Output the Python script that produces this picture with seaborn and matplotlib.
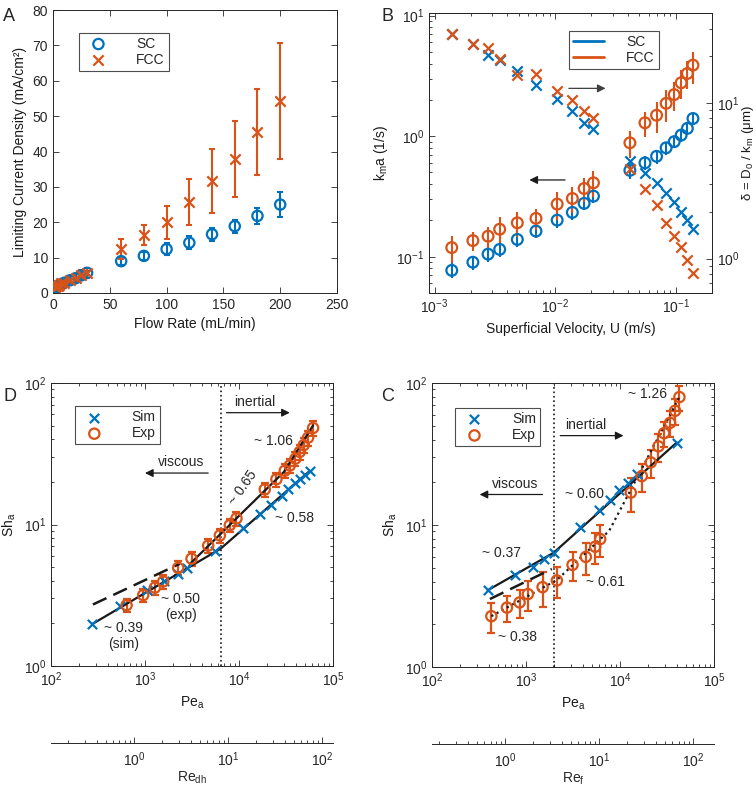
import numpy as np
import pandas as pd
import matplotlib
matplotlib.use('Agg')
import matplotlib.pyplot as plt
from matplotlib.lines import Line2D
import seaborn as sns

# ---- Panel A: limiting current density vs flow rate ----
flow_rate = [2, 3, 4, 5, 7, 10, 15, 20, 25, 30, 60, 80, 100, 120, 140, 160, 180, 200]
j_sc = [1.4, 1.6, 1.9, 2.1, 2.5, 2.9, 3.6, 4.2, 5.0, 5.7, 9.0, 10.5, 12.4, 14.2, 16.6, 18.9, 21.8, 25.0]
j_sc_err = [0.2, 0.2, 0.2, 0.2, 0.3, 0.3, 0.4, 0.4, 0.5, 0.5, 1.2, 1.1, 1.7, 1.9, 1.9, 1.8, 2.2, 3.5]
j_fcc = [1.7, 1.9, 2.1, 2.4, 2.7, 2.9, 3.8, 4.3, 5.2, 5.7, 12.4, 16.4, 20.0, 25.8, 31.7, 37.9, 45.5, 54.3]
j_fcc_err = [0.4, 0.3, 0.4, 0.6, 0.6, 0.6, 1.0, 1.1, 1.2, 1.4, 2.8, 2.7, 4.7, 6.5, 9.0, 10.8, 12.2, 16.5]

# ---- Panel B: kma and boundary layer thickness vs superficial velocity ----
velocity = [1.39e-3, 2.08e-3, 2.78e-3, 3.47e-3, 4.86e-3, 6.94e-3, 1.04e-2, 1.39e-2, 1.74e-2, 2.08e-2,
            4.17e-2, 5.56e-2, 6.94e-2, 8.33e-2, 9.72e-2, 0.111, 0.125, 0.139]
kma_sc = [0.077, 0.090, 0.105, 0.115, 0.139, 0.163, 0.201, 0.233, 0.277, 0.318,
          0.52, 0.60, 0.68, 0.80, 0.90, 1.02, 1.16, 1.40]
kma_sc_err = [0.011, 0.012, 0.014, 0.015, 0.018, 0.021, 0.027, 0.030, 0.035, 0.040,
              0.08, 0.08, 0.09, 0.10, 0.11, 0.12, 0.13, 0.15]
kma_fcc = [0.119, 0.136, 0.148, 0.169, 0.191, 0.208, 0.273, 0.304, 0.368, 0.41,
           0.88, 1.29, 1.49, 1.87, 2.21, 2.77, 3.31, 3.88]
kma_fcc_err = [0.03, 0.025, 0.03, 0.045, 0.045, 0.04, 0.07, 0.075, 0.085, 0.10,
               0.22, 0.30, 0.42, 0.55, 0.60, 0.75, 0.85, 1.15]
delta_sc = [28.0, 23.9, 20.5, 18.8, 16.0, 13.1, 10.6, 8.85, 7.5, 6.8,
            4.25, 3.53, 3.08, 2.65, 2.32, 2.0, 1.77, 1.54]
delta_fcc = [27.9, 24.0, 22.6, 19.2, 15.1, 15.5, 11.9, 10.4, 8.85, 8.0,
             3.75, 2.79, 2.21, 1.70, 1.39, 1.18, 0.975, 0.81]

# ---- Panel D: Sh vs Pe (SC) ----
pe_d_sim = [275, 541, 1040, 1600, 2250, 2770, 5530, 11070, 16650, 22130, 28960, 33570, 39180, 44270, 50500, 56510]
sh_d_sim = [1.98, 2.66, 3.44, 4.0, 4.47, 4.94, 6.52, 9.46, 11.9, 13.8, 15.8, 17.7, 19.5, 21.1, 22.3, 24.0]
pe_d_exp = [637, 957, 1274, 1563, 2255, 3125, 4700, 6255, 7985, 9400, 18800, 25000, 30680, 34670,
            39810, 44270, 48850, 54330, 61380]
sh_d_exp = [2.69, 3.17, 3.58, 3.96, 4.94, 5.74, 7.09, 8.37, 9.89, 11.05, 17.7, 20.9, 24.0, 26.1,
            29.2, 32.6, 36.4, 41.1, 48.1]
sh_d_err = [0.3, 0.35, 0.4, 0.45, 0.55, 0.65, 0.8, 0.95, 1.1, 1.3, 2.0, 2.4, 2.8, 3.1,
            3.5, 4.0, 4.4, 5.0, 6.0]
fit_d_sim_pe = [275, 6400, 56500]
fit_d_sim_sh = [1.98, 6.76, 23.9]
fit_d_exp_pe = [3000, 30000, 61400]
fit_d_exp_sh = [5.26, 23.5, 50.2]
fit_d_dash_pe = [279, 2350]
fit_d_dash_sh = [2.72, 5.28]
pe_d_transition = 6410

# ---- Panel C: Sh vs Pe (FCC) ----
pe_c_sim = [391, 769, 1184, 1562, 1963, 3767, 6049, 7852, 9867, 12300, 15070, 40180]
sh_c_sim = [3.47, 4.43, 5.04, 5.79, 6.37, 9.67, 12.8, 15.1, 17.5, 19.7, 22.7, 38.1]
pe_c_exp = [428, 627, 855, 1047, 1500, 2130, 3125, 4330, 5450, 6155, 13030, 17060, 21250,
            25630, 29440, 34100, 38540, 42870]
sh_c_exp = [2.28, 2.62, 2.85, 3.26, 3.65, 4.07, 5.24, 5.96, 7.03, 7.96, 16.9, 22.1, 27.6,
            35.8, 44.3, 52.4, 63.7, 79.6]
sh_c_err = [0.55, 0.55, 0.65, 0.8, 1.0, 1.0, 1.2, 1.5, 1.7, 2.0, 4.5, 5.0, 6.0,
            8.0, 9.0, 11.0, 13.0, 16.0]
fit_c_sim_pe = [391, 1963, 40180]
fit_c_sim_sh = [3.47, 6.37, 38.1]
fit_c_dash_pe = [413, 1884]
fit_c_dash_sh = [3.01, 4.90]
fit_c_exp_pe = [428, 2130, 7670, 42870]
fit_c_exp_sh = [2.28, 4.1, 9.1, 79.6]
pe_c_transition = 1995

BLUE = '#0072BD'
ORANGE = '#D95319'
GREY = '0.15'

sns.set_theme(style='white')
plt.rcParams['font.family'] = ['Liberation Sans', 'DejaVu Sans']
plt.rcParams['mathtext.fontset'] = 'custom'
plt.rcParams['mathtext.rm'] = 'Liberation Sans'
plt.rcParams['mathtext.it'] = 'Liberation Sans:italic'
plt.rcParams['mathtext.default'] = 'regular'
plt.rcParams['axes.edgecolor'] = GREY
plt.rcParams['axes.linewidth'] = 0.7


def matlab_style(ax, right=True):
    ax.tick_params(which='both', direction='in', bottom=True, left=True, top=True, right=right,
                   labelsize=10, color=GREY, labelcolor=GREY, width=0.6)
    ax.tick_params(which='major', length=4)
    ax.tick_params(which='minor', length=2)
    ax.xaxis.label.set_color('k')
    ax.yaxis.label.set_color('k')
    ax.grid(False)


def matlab_legend(ax, handles, labels, anchor):
    leg = ax.legend(handles, labels, loc='upper left', bbox_to_anchor=anchor, fontsize=10,
                    frameon=True, fancybox=False, edgecolor='0.3', framealpha=1,
                    handlelength=2.2, handletextpad=1.6, borderpad=0.3, labelspacing=0.15)
    leg.get_frame().set_linewidth(0.8)
    return leg


def sc(ax, x, y, marker, color, size, label=None):
    if marker == 'o':
        sns.scatterplot(x=x, y=y, ax=ax, marker='o', s=size, color=color, facecolor='none',
                        edgecolor=color, linewidth=1.6, label=label, zorder=3)
    else:
        sns.scatterplot(x=x, y=y, ax=ax, marker='x', s=size, color=color,
                        linewidth=1.6, label=label, zorder=3)


fig = plt.figure(figsize=(7.55, 7.89), dpi=100)
W, H = 755, 789
axA = fig.add_axes([53 / W, 1 - 293 / H, 284 / W, 283 / H])
axB = fig.add_axes([429 / W, 1 - 293 / H, 283 / W, 280 / H])
axD = fig.add_axes([51 / W, 1 - 666 / H, 282 / W, 283 / H])
axC = fig.add_axes([432 / W, 1 - 667 / H, 282 / W, 284 / H])

# Panel A
axA.errorbar(flow_rate, j_sc, yerr=j_sc_err, fmt='none', ecolor=BLUE, elinewidth=1.5, capsize=2, capthick=1.5)
sc(axA, flow_rate, j_sc, 'o', BLUE, 55, 'SC')
axA.errorbar(flow_rate, j_fcc, yerr=j_fcc_err, fmt='none', ecolor=ORANGE, elinewidth=1.5, capsize=2, capthick=1.5)
sc(axA, flow_rate, j_fcc, 'x', ORANGE, 55, 'FCC')
axA.set_xlim(0, 250)
axA.set_ylim(0, 80)
axA.set_xticks(range(0, 251, 50))
axA.set_yticks(range(0, 81, 10))
axA.set_xlabel('Flow Rate (mL/min)', fontsize=10)
axA.set_ylabel('Limiting Current Density (mA/cm²)', fontsize=10)
matlab_style(axA)
hA, lA = axA.get_legend_handles_labels()
matlab_legend(axA, hA, lA, (0.067, 0.945))

# Panel B
axB2 = axB.twinx()
axB.errorbar(velocity, kma_sc, yerr=kma_sc_err, fmt='none', ecolor=BLUE, elinewidth=1.5, capsize=0)
sc(axB, velocity, kma_sc, 'o', BLUE, 60)
axB.errorbar(velocity, kma_fcc, yerr=kma_fcc_err, fmt='none', ecolor=ORANGE, elinewidth=1.5, capsize=0)
sc(axB, velocity, kma_fcc, 'o', ORANGE, 60)
sc(axB2, velocity, delta_sc, 'x', BLUE, 55)
sc(axB2, velocity, delta_fcc, 'x', ORANGE, 55)
for a in (axB, axB2):
    a.set_xscale('log')
    a.set_yscale('log')
axB.set_xlim(0.9e-3, 0.2)
axB.set_ylim(0.05, 10.5)
axB2.set_ylim(0.6, 38)
axB.set_xticks([1e-3, 1e-2, 1e-1])
axB.set_yticks([0.1, 1, 10])
axB2.set_yticks([1, 10])
axB.set_xlabel('Superficial Velocity, U (m/s)', fontsize=10)
axB.set_ylabel('k$_m$a (1/s)', fontsize=10)
axB2.set_ylabel('δ = D$_0$ / k$_m$ (μm)', fontsize=9.5)
axB2.yaxis.set_label_coords(1.1, 0.5)
matlab_style(axB, right=False)
matlab_style(axB2)
axB2.tick_params(which='both', left=False, top=False, bottom=False)
axB.annotate('', xy=(0.0262, 2.49), xytext=(0.0130, 2.49),
             arrowprops=dict(arrowstyle='-|>', color='0.25', lw=0.9, mutation_scale=12, shrinkA=0, shrinkB=0))
axB.annotate('', xy=(0.00612, 0.433), xytext=(0.0121, 0.433),
             arrowprops=dict(arrowstyle='-|>', color='k', lw=0.9, mutation_scale=12, shrinkA=0, shrinkB=0))
hB = [Line2D([], [], color=BLUE, lw=2), Line2D([], [], color=ORANGE, lw=2)]
matlab_legend(axB2, hB, ['SC', 'FCC'], (0.47, 0.962))

# Panels D and C
def sh_panel(ax, pe_sim, sh_sim, pe_exp, sh_exp, sh_err, transition):
    ax.axvline(transition, color='k', ls=':', lw=1.2, zorder=1)
    sc(ax, pe_sim, sh_sim, 'x', BLUE, 45, 'Sim')
    ax.errorbar(pe_exp, sh_exp, yerr=sh_err, fmt='none', ecolor=ORANGE, elinewidth=1.6,
                capsize=3, capthick=1.6, zorder=2)
    sc(ax, pe_exp, sh_exp, 'o', ORANGE, 55, 'Exp')
    ax.set_xscale('log')
    ax.set_yscale('log')
    ax.set_xlim(100, 1e5)
    ax.set_ylim(1, 100)
    ax.set_xlabel('Pe$_a$', fontsize=10)
    ax.set_ylabel('Sh$_a$', fontsize=10)
    matlab_style(ax)
    h, l = ax.get_legend_handles_labels()
    return h, l


arrow_kw = dict(arrowstyle='-|>', color='k', lw=0.9, mutation_scale=12, shrinkA=0, shrinkB=0)

h, l = sh_panel(axD, pe_d_sim, sh_d_sim, pe_d_exp, sh_d_exp, sh_d_err, pe_d_transition)
sns.lineplot(x=fit_d_sim_pe, y=fit_d_sim_sh, ax=axD, color='k', lw=1.6, sort=False, zorder=2.5)
sns.lineplot(x=fit_d_exp_pe, y=fit_d_exp_sh, ax=axD, color='k', lw=1.6, sort=False, zorder=2.5)
axD.plot(fit_d_dash_pe, fit_d_dash_sh, color='k', lw=1.8, ls=(0, (6, 3)), zorder=2.5)
matlab_legend(axD, h, l, (0.06, 0.943))
axD.text(23070, 39.2, '~ 1.06', fontsize=10, ha='center', va='center')
axD.text(11070, 18.2, '~ 0.65', fontsize=10, ha='center', va='center', rotation=55)
axD.text(39180, 11.2, '~ 0.58', fontsize=10, ha='center', va='center')
axD.text(2410, 2.61, '~ 0.50\n(exp)', fontsize=10, ha='center', va='center', linespacing=1.1)
axD.text(587, 1.63, '~ 0.39\n(sim)', fontsize=10, ha='center', va='center', linespacing=1.1)
axD.text(2410, 27.6, 'viscous', fontsize=10, ha='center', va='center')
axD.annotate('', xy=(1000, 23.1), xytext=(4700, 23.1), arrowprops=arrow_kw)
axD.text(14720, 72.9, 'inertial', fontsize=10, ha='center', va='center')
axD.annotate('', xy=(34700, 61.7), xytext=(7360, 61.7), arrowprops=arrow_kw)

h, l = sh_panel(axC, pe_c_sim, sh_c_sim, pe_c_exp, sh_c_exp, sh_c_err, pe_c_transition)
sns.lineplot(x=fit_c_sim_pe, y=fit_c_sim_sh, ax=axC, color='k', lw=1.6, sort=False, zorder=2.5)
axC.plot(fit_c_dash_pe, fit_c_dash_sh, color='k', lw=1.8, ls=(0, (6, 3)), zorder=2.5)
axC.plot(fit_c_exp_pe, fit_c_exp_sh, color='k', lw=1.6, ls=':', zorder=2.5)
matlab_legend(axC, h, l, (0.057, 0.937))
axC.text(19400, 83.7, '~ 1.26', fontsize=10, ha='center', va='center')
axC.text(4335, 50.4, 'inertial', fontsize=10, ha='center', va='center')
axC.annotate('', xy=(10900, 42.6), xytext=(2312, 42.6), arrowprops=arrow_kw)
axC.text(769, 19.4, 'viscous', fontsize=10, ha='center', va='center')
axC.annotate('', xy=(321, 16.4), xytext=(1500, 16.4), arrowprops=arrow_kw)
axC.text(4160, 16.5, '~ 0.60', fontsize=10, ha='center', va='center')
axC.text(554, 6.37, '~ 0.37', fontsize=10, ha='center', va='center')
axC.text(7060, 3.96, '~ 0.61', fontsize=10, ha='center', va='center')
axC.text(813, 1.62, '~ 0.38', fontsize=10, ha='center', va='center')

# Secondary Reynolds-number axes below D and C
for left, ypix, lims, lab in [(51, 743, (0.131, 131), 'Re$_{dh}$'), (432, 744, (0.167, 167), 'Re$_f$')]:
    axr = fig.add_axes([left / W, 1 - ypix / H, 282 / W, 0.0005])
    axr.set_xscale('log')
    axr.set_xlim(*lims)
    axr.set_yticks([])
    for s in ('top', 'left', 'right'):
        axr.spines[s].set_visible(False)
    axr.set_facecolor('none')
    axr.tick_params(which='both', direction='in', bottom=True, labelsize=10, color=GREY,
                    labelcolor=GREY, width=0.6, pad=5)
    axr.tick_params(which='major', length=4)
    axr.tick_params(which='minor', length=2)
    axr.set_xticks([1, 10, 100])
    axr.set_xlabel(lab, fontsize=10, labelpad=1)

for txt, x, y in [('A', 0.004, 0.99), ('B', 0.505, 0.99), ('D', 0.004, 0.508), ('C', 0.505, 0.508)]:
    fig.text(x, y, txt, fontsize=13, ha='left', va='top')

fig.savefig('out.png', dpi=100)
